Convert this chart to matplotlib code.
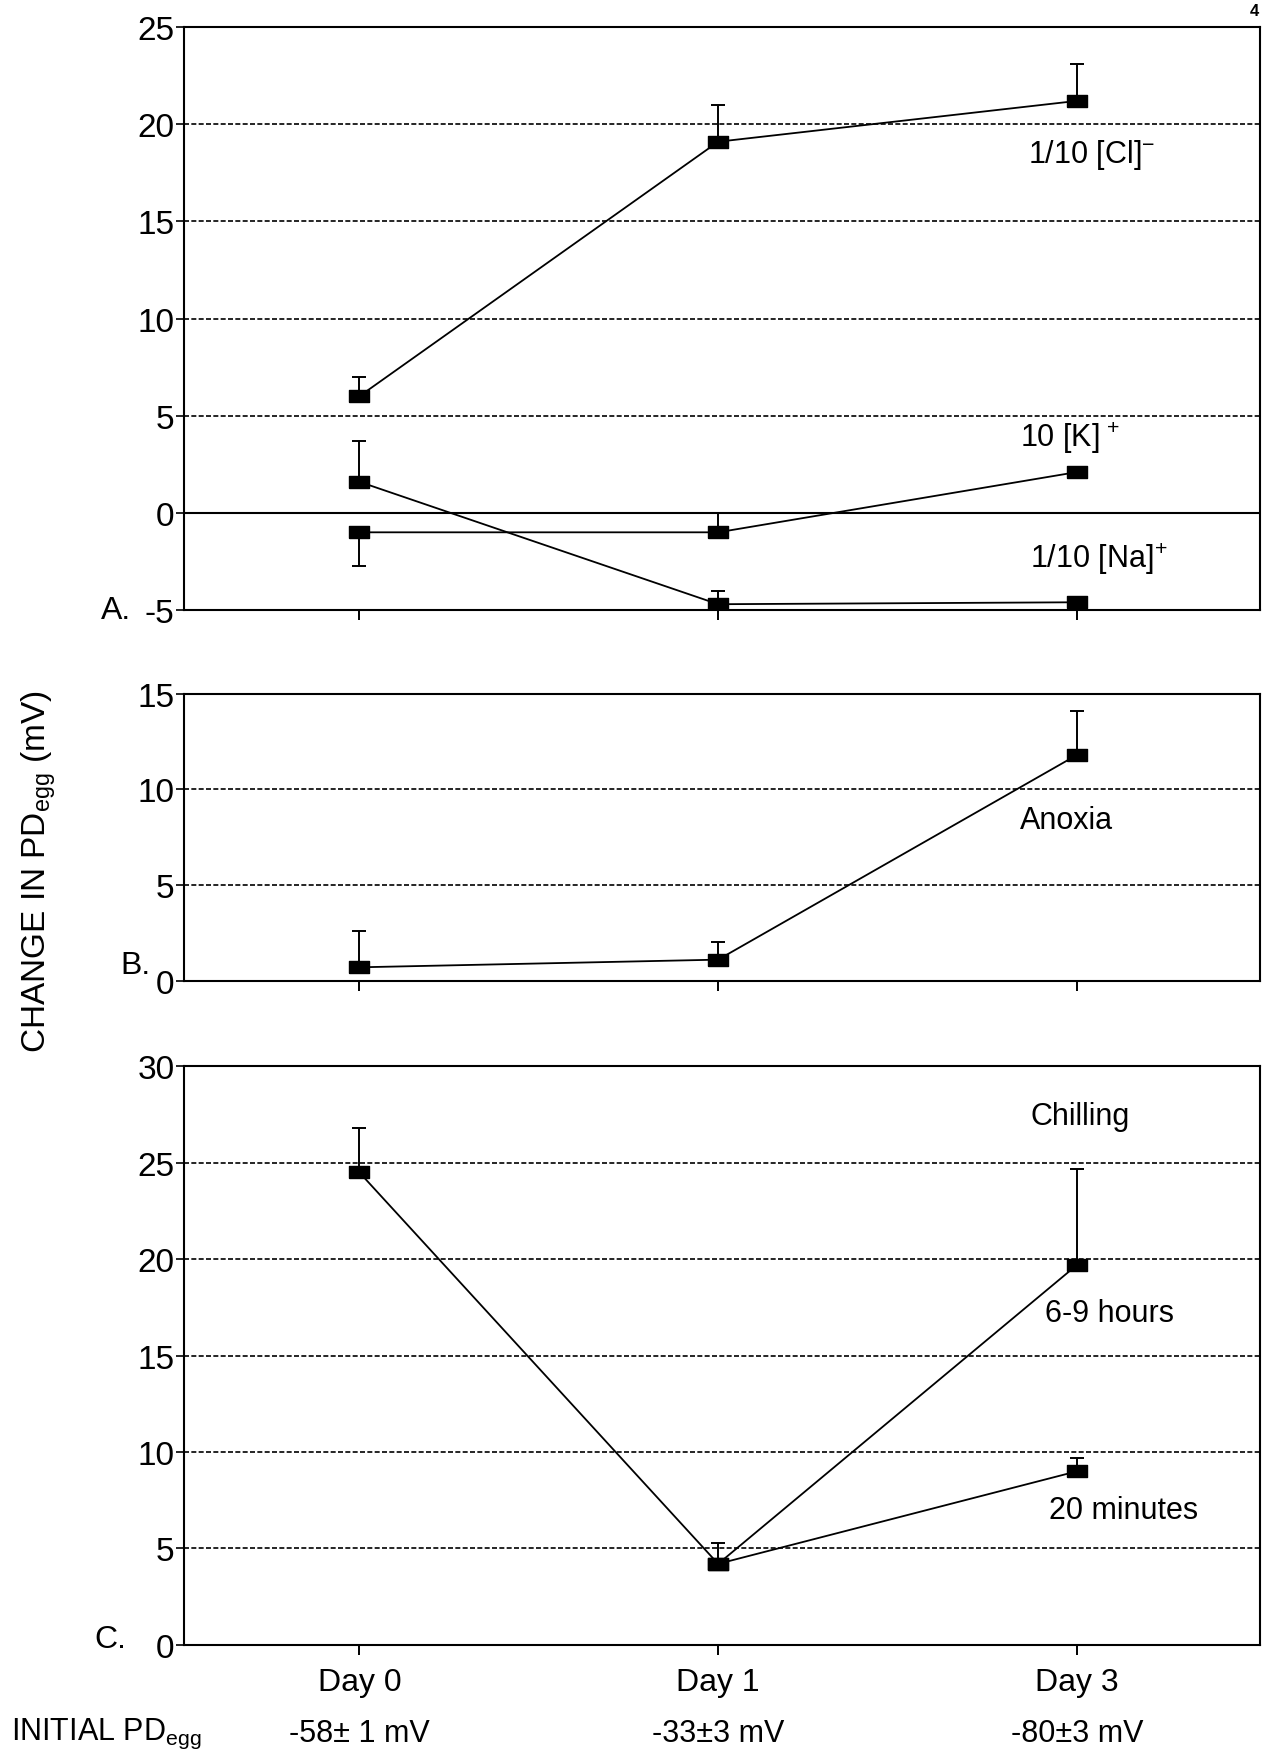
import matplotlib.pyplot as plt
import numpy as np

plt.rcParams['font.family'] = ['Liberation Sans', 'DejaVu Sans']
plt.rcParams['mathtext.fontset'] = 'custom'
plt.rcParams['mathtext.rm'] = 'Liberation Sans'
plt.rcParams['mathtext.it'] = 'Liberation Sans'
plt.rcParams['axes.unicode_minus'] = False

# x categories and the initial potential under each one
days = ['Day 0', 'Day 1', 'Day 3']
initial_pd = ['-58± 1 mV', '-33±3 mV', '-80±3 mV']

# A. ion substitutions
cl_mean = [6.0, 19.1, 21.2]
cl_err_up = [1.0, 1.9, 1.9]
cl_err_down = [0.0, 0.0, 0.0]
k_mean = [-1.0, -1.0, 2.1]
k_err_up = [0.0, 1.0, 0.0]
k_err_down = [1.75, 0.0, 0.0]
na_mean = [1.6, -4.7, -4.6]
na_err_up = [2.1, 0.7, 0.2]
na_err_down = [0.0, 0.0, 0.0]

# B. anoxia
anoxia_mean = [0.7, 1.1, 11.8]
anoxia_err_up = [1.9, 0.9, 2.3]

# C. chilling (both series share Day 0 -> Day 1)
hours_mean = [24.5, 4.2, 19.7]
hours_err_up = [2.3, 1.1, 5.0]
minutes_mean = [np.nan, 4.2, 9.0]
minutes_err_up = [0.0, 0.0, 0.7]

x = np.arange(len(days))

# wide filled rectangle used as the data marker
rect = [(-1, -0.6), (1, -0.6), (1, 0.6), (-1, 0.6), (-1, -0.6)]

fig = plt.figure(figsize=(12.63, 17.65), dpi=100)
ax_a = fig.add_axes([0.1453, 0.6538, 0.8523, 0.3303])
ax_b = fig.add_axes([0.1453, 0.4438, 0.8523, 0.1626])
ax_c = fig.add_axes([0.1453, 0.0675, 0.8523, 0.3278])


def draw_series(ax, mean, err_down, err_up):
    ax.errorbar(x, mean, yerr=[err_down, err_up], color='black', lw=1.3,
                marker=rect, markersize=15, capsize=5, elinewidth=1.4,
                capthick=1.4, zorder=3)


def style_axes(ax, ylim, yticks):
    ax.set_xlim(-0.49, 2.51)
    ax.set_ylim(*ylim)
    ax.set_yticks(yticks)
    ax.set_xticks(x)
    ax.yaxis.grid(True, linestyle=(0, (3, 1.4)), color='black', lw=1.2)
    ax.set_axisbelow(True)
    for s in ax.spines.values():
        s.set_linewidth(1.5)
    ax.tick_params(axis='y', direction='out', length=5.5, width=1.2,
                   pad=1, labelsize=24)
    ax.tick_params(axis='x', direction='out', length=7, width=1.4,
                   pad=9, labelsize=23)


# ---- panel A
draw_series(ax_a, cl_mean, cl_err_down, cl_err_up)
draw_series(ax_a, k_mean, k_err_down, k_err_up)
draw_series(ax_a, na_mean, na_err_down, na_err_up)
style_axes(ax_a, (-5, 25), [-5, 0, 5, 10, 15, 20, 25])
ax_a.axhline(0, color='black', lw=1.5, zorder=2)
ax_a.set_xticklabels([])
ax_a.text(2.04, 18.45, '1/10 [Cl]$^{-}$', fontsize=22, ha='center', va='center')
ax_a.text(1.98, 3.9, '10 [K]$^{\\,+}$', fontsize=22, ha='center', va='center')
ax_a.text(2.06, -2.35, '1/10 [Na]$^{+}$', fontsize=22, ha='center', va='center')
ax_a.text(-0.063, 0.0, 'A.', fontsize=23, ha='center', va='center',
          transform=ax_a.transAxes)

# ---- panel B
draw_series(ax_b, anoxia_mean, [0, 0, 0], anoxia_err_up)
style_axes(ax_b, (0, 15), [0, 5, 10, 15])
ax_b.set_xticklabels([])
ax_b.text(1.97, 8.4, 'Anoxia', fontsize=22, ha='center', va='center')
ax_b.text(-0.045, 0.054, 'B.', fontsize=23, ha='center', va='center',
          transform=ax_b.transAxes)

# ---- panel C
draw_series(ax_c, hours_mean, [0, 0, 0], hours_err_up)
draw_series(ax_c, minutes_mean, [0, 0, 0], minutes_err_up)
style_axes(ax_c, (0, 30), [0, 5, 10, 15, 20, 25, 30])
ax_c.set_xticklabels(days)
ax_c.text(2.01, 27.4, 'Chilling', fontsize=22, ha='center', va='center')
ax_c.text(2.09, 17.2, '6-9 hours', fontsize=22, ha='center', va='center')
ax_c.text(2.13, 7.0, '20 minutes', fontsize=22, ha='center', va='center')
ax_c.text(-0.068, 0.01, 'C.', fontsize=23, ha='center', va='center',
          transform=ax_c.transAxes)

for xi, lab in zip(x, initial_pd):
    ax_c.text(xi, -0.152, lab, fontsize=22, ha='center', va='center',
              transform=ax_c.get_xaxis_transform())

fig.text(0.009, 0.0177, r'INITIAL PD$_{\mathrm{egg}}$', fontsize=22,
         ha='left', va='center')
fig.text(0.031, 0.506, r'CHANGE IN PD$_{\mathrm{egg}}$ (mV)', fontsize=24,
         rotation=90, ha='center', va='center')
fig.text(0.997, 0.998, '4', fontsize=12, fontweight='bold', ha='right', va='top')

fig.savefig('out.png', dpi=100)
